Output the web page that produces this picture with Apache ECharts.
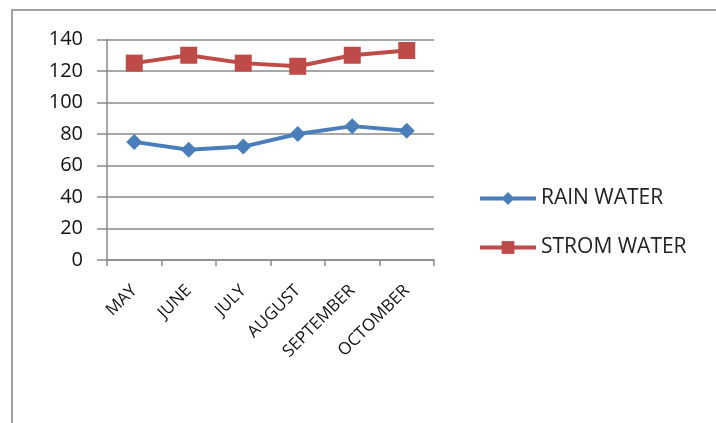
<!DOCTYPE html>
<html>
<head>
<meta charset="utf-8">
<script src="https://cdn.jsdelivr.net/npm/echarts@6/dist/echarts.min.js"></script>
<style>
  html, body { margin: 0; padding: 0; background: #fff; }
  #chart { width: 716px; height: 423px; }
</style>
</head>
<body>
<div id="chart"></div>
<script>
// Monthly water volumes
const months = ['MAY', 'JUNE', 'JULY', 'AUGUST', 'SEPTEMBER', 'OCTOMBER'];
const rainWater = [75, 70, 72, 80, 85, 82];
const stromWater = [125, 130, 125, 123, 130, 133];
const yTicks = [0, 20, 40, 60, 80, 100, 120, 140];

const font = '"Open Sans", "Liberation Sans", sans-serif';
const chart = echarts.init(document.getElementById('chart'), null, { renderer: 'canvas' });

chart.setOption({
  animation: false,
  backgroundColor: '#ffffff',
  graphic: [{
    type: 'rect',
    shape: { x: 12, y: 10, width: 720, height: 430 },
    style: { fill: 'none', stroke: '#a0a0a0', lineWidth: 2 },
    silent: true
  }],
  grid: { left: 107, right: 282, top: 39.5, bottom: 163, containLabel: false },
  legend: {
    orient: 'vertical',
    left: 473,
    top: 183,
    itemWidth: 56,
    itemHeight: 16,
    itemGap: 28,
    lineStyle: { width: 4 },
    textStyle: { fontFamily: font, fontSize: 21, color: '#222' },
    data: ['RAIN WATER', 'STROM WATER']
  },
  xAxis: {
    type: 'category',
    data: months,
    boundaryGap: true,
    axisLine: { show: true, lineStyle: { color: '#8a8a8a', width: 1.5 } },
    axisTick: { show: true, length: 6, inside: false, lineStyle: { color: '#8a8a8a', width: 1.5 } },
    axisLabel: {
      rotate: 45,
      interval: 0,
      margin: 28,
      fontFamily: font,
      fontSize: 17,
      color: '#111'
    }
  },
  yAxis: {
    type: 'value',
    min: yTicks[0],
    max: yTicks[yTicks.length - 1],
    interval: 20,
    axisLine: { show: true, lineStyle: { color: '#8a8a8a', width: 1.5 } },
    axisTick: { show: true, length: 10, lineStyle: { color: '#8a8a8a', width: 1.5 } },
    splitLine: { show: true, lineStyle: { color: '#8a8a8a', width: 1.5 } },
    axisLabel: {
      margin: 24,
      fontFamily: font,
      fontSize: 20,
      color: '#111'
    }
  },
  series: [
    {
      name: 'RAIN WATER',
      type: 'line',
      data: rainWater,
      symbol: 'diamond',
      symbolSize: 16,
      lineStyle: { color: '#4a7ebb', width: 4 },
      itemStyle: { color: '#4a7ebb' }
    },
    {
      name: 'STROM WATER',
      type: 'line',
      data: stromWater,
      symbol: 'rect',
      symbolSize: 17,
      lineStyle: { color: '#be4b48', width: 4 },
      itemStyle: { color: '#be4b48' }
    }
  ]
});
</script>
</body>
</html>
